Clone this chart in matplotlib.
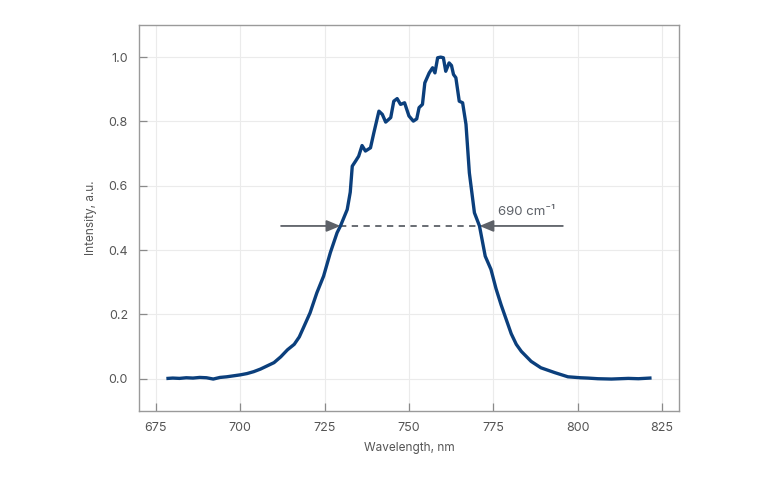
import matplotlib
matplotlib.use("Agg")
import matplotlib.pyplot as plt

# spectrum
wavelength = [678.6, 680, 682, 684, 686, 688, 690, 692, 694, 696, 698, 700,
              702, 704, 706, 708, 710, 712, 714, 716, 717.5, 719, 720.7, 722.7,
              724.7, 726.7, 728.7, 729.7, 731.7, 732.6, 733.2, 734.2, 735.1,
              736.1, 737.1, 738.6, 739.6, 741.1, 742.1, 743.1, 744.6, 745.5,
              746.5, 747.5, 748.7, 750, 751.3, 752.3, 753, 754, 754.7, 756,
              757, 757.7, 758.5, 759.4, 760.2, 760.9, 761.9, 762.6, 763.2,
              763.9, 764.9, 765.9, 766.9, 767.9, 769.4, 770.9, 772.6, 774.3,
              775.8, 777.3, 778.8, 780.3, 781.8, 783.3, 786.2, 789.1, 793.2,
              797.1, 800.8, 803, 806, 810, 815, 818, 821.4]
intensity = [0.001, 0.002, 0.001, 0.003, 0.002, 0.004, 0.003, -0.001, 0.004, 0.006, 0.009, 0.012,
             0.016, 0.022, 0.03, 0.04, 0.05, 0.068, 0.09, 0.107, 0.13, 0.165, 0.205, 0.267,
             0.319, 0.392, 0.454, 0.475, 0.526, 0.58, 0.661, 0.677, 0.692,
             0.725, 0.708, 0.718, 0.765, 0.832, 0.822, 0.798, 0.812, 0.863,
             0.871, 0.853, 0.858, 0.817, 0.801, 0.808, 0.843, 0.853, 0.92, 0.951,
             0.967, 0.951, 0.998, 1.0, 0.998, 0.956, 0.982, 0.974, 0.946,
             0.936, 0.863, 0.858, 0.791, 0.64, 0.516, 0.475, 0.381, 0.34,
             0.28, 0.23, 0.185, 0.14, 0.107, 0.085, 0.054, 0.034, 0.019,
             0.006, 0.003, 0.002, 0.0, -0.001, 0.001, 0.0, 0.002]

# FWHM marker
half_level = 0.475
fwhm_left, fwhm_right = 729.7, 770.9
arrow_left_start, arrow_right_start = 712.1, 795.6
fwhm_label = "690 cm⁻¹"

grey = "#5d6168"
plt.rcParams["font.family"] = ["Inter", "DejaVu Sans"]

fig = plt.figure(figsize=(7.68, 4.8), dpi=100)
ax = fig.add_axes([0.181, 0.144, 0.703, 0.804])

ax.plot(wavelength, intensity, color="#0b3f7c", lw=2.4, solid_joinstyle="round", zorder=3)

ax.plot([fwhm_left, fwhm_right], [half_level, half_level], color=grey, lw=1.3,
        ls=(0, (3.5, 3)), zorder=2)
for start, end in [(arrow_left_start, fwhm_left), (arrow_right_start, fwhm_right)]:
    ax.annotate("", xy=(end, half_level), xytext=(start, half_level),
                arrowprops=dict(arrowstyle="-|>,head_length=0.6,head_width=0.25",
                                color=grey, lw=1.3, mutation_scale=14,
                                shrinkA=0, shrinkB=0), zorder=4)
ax.text(776.3, 0.518, fwhm_label, color=grey, fontsize=9.5, va="center", ha="left")

ax.set_xlim(670, 830)
ax.set_ylim(-0.1, 1.1)
ax.set_xticks([675, 700, 725, 750, 775, 800, 825])
ax.set_yticks([0.0, 0.2, 0.4, 0.6, 0.8, 1.0])
ax.set_yticklabels(["0.0", "0.2", "0.4", "0.6", "0.8", "1.0"])
ax.grid(True, color="#ebebeb", lw=0.8)
ax.set_axisbelow(True)
for s in ax.spines.values():
    s.set_color("#9a9a9a")
    s.set_linewidth(1.0)
ax.tick_params(direction="in", length=5.5, width=0.9, color="#8a8a8a",
               labelcolor="#555555", labelsize=9, pad=8)

ax.set_xlabel("Wavelength, nm", color="#555555", fontsize=8.5, labelpad=6)
ax.set_ylabel("Intensity, a.u.", color="#555555", fontsize=8.5, labelpad=8)

fig.savefig("out.png", dpi=100)
